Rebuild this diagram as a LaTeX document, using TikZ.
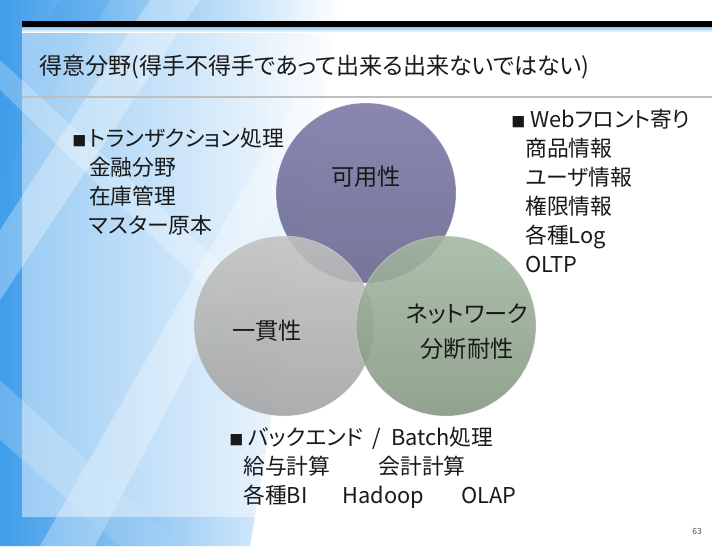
\documentclass[tikz,border=0pt]{standalone}
\usepackage{fontspec}
\setmainfont{Noto Sans CJK JP}[RawFeature=+palt]
\usetikzlibrary{positioning}

\definecolor{bgblue}{HTML}{3F9DEA}
\definecolor{paleblue}{HTML}{A8D2F4}
\definecolor{availtop}{HTML}{7977A6}
\definecolor{availbot}{HTML}{64638C}
\definecolor{constop}{HTML}{C2C2C0}
\definecolor{consbot}{HTML}{A2A2A2}
\definecolor{parttop}{HTML}{A3B8A1}
\definecolor{partbot}{HTML}{83967F}

\newcommand{\sqb}{{\fontsize{10}{10}\selectfont ■}}

\begin{document}
\begin{tikzpicture}[x=0.025cm,y=-0.025cm]
	\tikzstyle{title} = [anchor=west, inner sep=0pt, text=black!90, font=\fontsize{16.4}{18}\selectfont]
	\tikzstyle{listing} = [anchor=north west, inner sep=0pt, align=left, text=black!90, font=\fontsize{15.5}{20.6}\selectfont]
	\tikzstyle{set} = [circle, inner sep=0pt, minimum size=4.5cm, draw=white, draw opacity=0.4, fill opacity=0.88]
	\tikzstyle{setlabel} = [inner sep=0pt, align=center, text=black!90, font=\fontsize{16.5}{25}\selectfont]

	% background
	\useasboundingbox (0,0) rectangle (728,546);
	\fill[white] (0,0) rectangle (728,546);
	\shade[left color=bgblue, right color=white] (0,0) -- (340,0) -- (250,546) -- (0,546) -- cycle;
	\fill[white, opacity=0.3] (0,230) -- (0,300) -- (200,0) -- (150,0) -- cycle;
	\fill[white, opacity=0.3] (40,546) -- (95,546) -- (330,100) -- (300,90) -- cycle;
	\fill[paleblue, opacity=0.4] (0,380) -- (180,546) -- (120,546) -- (0,440) -- cycle;
	\fill[bgblue, opacity=0.25] (60,0) -- (110,0) -- (0,180) -- (0,110) -- cycle;
	\fill[white, opacity=0.25] (0,60) -- (0,90) -- (250,330) -- (250,290) -- cycle;
	\fill[white, opacity=0.45] (22,28) rectangle (712,517);

	% header
	\fill[black] (22,21) rectangle (712,27);
	\shade[top color=bgblue!60, bottom color=white] (22,27) rectangle (712,32);
	\draw[black!25, line width=1.1pt] (22,97) -- (712,97);
	\node[title] (heading) at (39,67) {得意分野(得手不得手であって出来る出来ないではない)};

	% circles
	\node[set, top color=availtop, bottom color=availbot] (avail) at (366,193) {};
	\node[set, top color=constop, bottom color=consbot] (cons) at (284,326) {};
	\node[set, top color=parttop, bottom color=partbot] (part) at (446,326) {};

	\node[setlabel] (availlbl) at (366,177) {可用性};
	\node[setlabel] (conslbl) at (267,331) {一貫性};
	\node[setlabel] (partlbl) at (467,332) {ネットワーク\\分断耐性};

	% lists
	\node[listing] (txlist) at (72,126) {\begin{tabular}{@{}l@{\hspace{2pt}}l@{}}
		\sqb & トランザクション処理\\
		& 金融分野\\
		& 在庫管理\\
		& マスター原本
	\end{tabular}};
	\node[listing] (weblist) at (511,107) {\begin{tabular}{@{}l@{}l@{}}
		\sqb & \ Webフロント寄り\\
		& 商品情報\\
		& ユーザ情報\\
		& 権限情報\\
		& 各種Log\\
		& OLTP
	\end{tabular}};
	\node[listing] (batchlist) at (229,425) {\begin{tabular}{@{}l@{}l@{}}
		\sqb & \ バックエンド\hspace{0.45em}/\hspace{0.45em}Batch処理\\
		& 給与計算\hspace{2.2em}会計計算\\
		& 各種BI\hspace{1.6em}Hadoop\hspace{1.7em}OLAP
	\end{tabular}};

	\node[text=black!70, font=\fontsize{6}{6}\selectfont] (pagenum) at (697,531) {63};
\end{tikzpicture}
\end{document}
